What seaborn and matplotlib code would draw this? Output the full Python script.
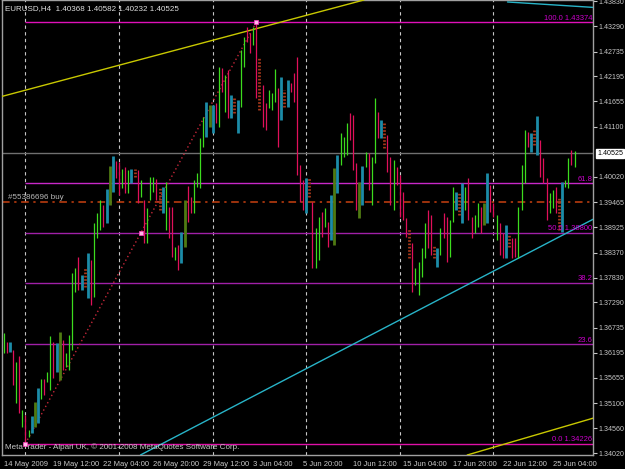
import matplotlib
import matplotlib.pyplot as plt
import seaborn as sns
import pandas as pd

matplotlib.use('Agg')

# H4 bars (high / low per bar)
highs = [
    1.36626, 1.36430, 1.36430, 1.36257, 1.35996, 1.36126, 1.34954, 1.34845, 1.34520, 1.34824,
    1.35128, 1.35432, 1.35627, 1.35627, 1.35779, 1.36560, 1.36430, 1.36409, 1.36647, 1.36474,
    1.36191, 1.36582, 1.37928, 1.38036, 1.38275, 1.37885, 1.38058, 1.38362, 1.38210, 1.39013,
    1.39231, 1.39513, 1.39404, 1.39752, 1.40251, 1.40468, 1.40360, 1.40338, 1.40186, 1.40229,
    1.40164, 1.40186, 1.40186, 1.40164, 1.39947, 1.39513, 1.39339, 1.40013, 1.40013, 1.39969,
    1.39795, 1.39795, 1.39904, 1.39361, 1.39361, 1.38493, 1.38536, 1.38818, 1.39513, 1.39817,
    1.39578, 1.39947, 1.40099, 1.40859, 1.41315, 1.41641, 1.41575, 1.41575, 1.41619, 1.42400,
    1.42379, 1.42227, 1.42335, 1.41793, 1.41728, 1.41684, 1.42770, 1.43052, 1.43269, 1.43139,
    1.43269, 1.43374, 1.42618, 1.42010, 1.41619, 1.41901, 1.41836, 1.42357, 1.41945, 1.42183,
    1.41901, 1.42118, 1.42053, 1.42270, 1.42618, 1.40273, 1.39947, 1.39991, 1.39991, 1.39470,
    1.38905, 1.39144, 1.39252, 1.39339, 1.39035, 1.39622, 1.40208, 1.40490, 1.40967, 1.40881,
    1.41185, 1.41402, 1.41358, 1.40316, 1.39904, 1.40251, 1.40555, 1.40533, 1.40447, 1.41728,
    1.41423, 1.41250, 1.41206, 1.40924, 1.40447, 1.40381, 1.40229, 1.40056, 1.39687, 1.39122,
    1.38905, 1.38580, 1.38036, 1.38166, 1.38471, 1.39013, 1.39296, 1.39187, 1.38536, 1.38471,
    1.38905, 1.39231, 1.39144, 1.39079, 1.39795, 1.39687, 1.39665, 1.39882, 1.39795, 1.39991,
    1.39144, 1.39187, 1.39448, 1.39361, 1.39448, 1.40099, 1.39839, 1.39448, 1.39187, 1.39013,
    1.38797, 1.38970, 1.38753, 1.38688, 1.38688, 1.39361, 1.40273, 1.41032, 1.40989, 1.40967,
    1.41032, 1.41337, 1.40815, 1.40425, 1.39991, 1.39665, 1.39730, 1.39795, 1.39578, 1.39904,
    1.39947, 1.40425, 1.40599, 1.40582,
]
lows = [
    1.36191, 1.36191, 1.36213, 1.35497, 1.35106, 1.34889, 1.34585, 1.34226, 1.34368, 1.34455,
    1.34585, 1.34672, 1.35193, 1.35280, 1.35562, 1.35388, 1.35649, 1.35779, 1.35605, 1.35822,
    1.35887, 1.35822, 1.36257, 1.37516, 1.37559, 1.37559, 1.37624, 1.37385, 1.37233, 1.37407,
    1.38688, 1.38862, 1.38927, 1.39013, 1.39404, 1.39687, 1.39991, 1.39622, 1.39774, 1.39665,
    1.39665, 1.39882, 1.40013, 1.39448, 1.39578, 1.38580, 1.38580, 1.39513, 1.39687, 1.39513,
    1.39296, 1.39231, 1.38862, 1.38688, 1.38275, 1.38210, 1.37993, 1.38145, 1.38493, 1.39035,
    1.39231, 1.39231, 1.39795, 1.39774, 1.40663, 1.40881, 1.41098, 1.40967, 1.41185, 1.41098,
    1.41858, 1.41423, 1.41293, 1.41293, 1.41402, 1.40967, 1.41532, 1.42400, 1.42943, 1.42704,
    1.42878, 1.41728, 1.41467, 1.41098, 1.41032, 1.41510, 1.41467, 1.41641, 1.40663, 1.41250,
    1.41532, 1.41532, 1.41858, 1.41641, 1.40056, 1.39470, 1.39296, 1.39231, 1.39578, 1.38036,
    1.38036, 1.38210, 1.38710, 1.38927, 1.38493, 1.38645, 1.38536, 1.39665, 1.40273, 1.40447,
    1.40490, 1.40815, 1.40164, 1.39296, 1.39122, 1.39404, 1.40229, 1.39730, 1.39404, 1.40316,
    1.40859, 1.40859, 1.40642, 1.40121, 1.39404, 1.39296, 1.39839, 1.39144, 1.39079, 1.38710,
    1.38253, 1.37516, 1.37668, 1.37451, 1.37841, 1.38253, 1.38471, 1.38319, 1.38253, 1.38058,
    1.38319, 1.38688, 1.38166, 1.38275, 1.39035, 1.39296, 1.39187, 1.39013, 1.39296, 1.39079,
    1.38688, 1.38797, 1.38927, 1.38797, 1.38970, 1.39013, 1.39252, 1.39144, 1.38645, 1.38319,
    1.38253, 1.38253, 1.38493, 1.38253, 1.38275, 1.38253, 1.39296, 1.39882, 1.40663, 1.40555,
    1.40707, 1.40490, 1.40013, 1.39882, 1.39079, 1.39231, 1.39339, 1.39231, 1.38862, 1.38818,
    1.39795, 1.39774, 1.40273, 1.40232,
]
# bar colouring from the indicator: u=up, d=down, t=teal, o=olive, b=brown
kinds = list(
    "udtdududut" "otuduudtod" "uuuudtbtdu" "uudtotddud" "utbduduuud"
    "btuddudtod" "duuuutotdu" "dudtbtuudd" "udbdduuudt" "btdddddtbd"
    "uududtotuu" "udddotuduu" "dtbddudddd" "bduuuuddbt" "udduutbtud"
    "duudotddud" "dtbdduuudt" "btddduudbt" "uudu"
)

x_labels = ["14 May 2009", "19 May 12:00", "22 May 04:00", "26 May 20:00", "29 May 12:00",
            "3 Jun 04:00", "5 Jun 20:00", "10 Jun 12:00", "15 Jun 04:00", "17 Jun 20:00",
            "22 Jun 12:00", "25 Jun 04:00"]
x_label_bars = [0, 16, 32, 48, 64, 80, 96, 112, 128, 144, 160, 176]
week_bars = [7, 37, 67, 97, 127, 157]

y_ticks = [1.43830, 1.43290, 1.42735, 1.42195, 1.41655, 1.41100, 1.40020, 1.39465,
           1.38925, 1.38370, 1.37830, 1.37290, 1.36735, 1.36195, 1.35655, 1.35100,
           1.34560, 1.34020]

fib_names = ["0.0 1.34226", "23.6", "38.2", "50.0 1.38800", "61.8", "100.0 1.43374"]
fib_prices = [1.34226, 1.36385, 1.37720, 1.38800, 1.39879, 1.43374]
fib_colors = ["#E010A8", "#A020A8", "#A020A8", "#A020A8", "#C828C8", "#E010B8"]
fib_start_bar = 7
fib_end_bar = 81
fib_mid_bar = 44

last_price = 1.40525
order_price = 1.39470
order_label = "#55386696 buy"
header = "EURUSD,H4  1.40368 1.40582 1.40232 1.40525"
footer = "MetaTrader - Alpari UK, \u00a9 2001-2008 MetaQuotes Software Corp."

# trend lines as (bar, price) pairs
yellow_up = [(0, 1.41771), (101, 1.43594)]
yellow_low = [(149.7, 1.33999), (189.1, 1.34780)]
cyan_up = [(44.5, 1.33999), (189.1, 1.39101)]
cyan_top = [(161.5, 1.43812), (190.0, 1.43690)]

kind_color = {"u": "#3CDC1E", "d": "#E0105A", "t": "#1C8CA8", "o": "#4F7A12", "b": "#A8381A"}
kind_width = {"u": 0.9, "d": 0.9, "t": 2.0, "o": 2.0, "b": 2.0}

df = pd.DataFrame({"bar": range(len(highs)), "high": highs, "low": lows, "kind": kinds})

sns.set_theme(style="dark", rc={
    "figure.facecolor": "black", "axes.facecolor": "black",
    "axes.edgecolor": "#A0A0A0", "xtick.color": "#C8C8C8", "ytick.color": "#C8C8C8",
})
plt.rcParams['font.family'] = ['Liberation Sans', 'DejaVu Sans']

fig = plt.figure(figsize=(6.25, 4.69), dpi=100)
ax = fig.add_axes([2 / 625, 14 / 469, 591 / 625, 455 / 469])
ax.set_xlim(-0.5, 188.9)
ax.set_ylim(1.33977, 1.43855)

# week separators
for b in week_bars:
    ax.axvline(b, color="#C8C8C8", lw=0.8, ls=(0, (3, 3)), zorder=1)

# fibo levels
for name, price, col in zip(fib_names, fib_prices, fib_colors):
    ax.hlines(price, fib_start_bar, 188.9, color=col, lw=1.0, zorder=2)
    ax.text(188.6, price + 0.00008, name, color="#CC00CC", fontsize=5.5,
            ha="right", va="bottom", zorder=6)

ax.axhline(last_price, color="#707070", lw=1.0, zorder=2)
ax.axhline(order_price, color="#C84010", lw=1.1, ls=(0, (5, 3, 1.5, 3)), zorder=2)
ax.text(1.5, order_price + 0.0003, order_label, color="#B8B8B8", fontsize=5.8,
        ha="left", va="bottom", zorder=6)

# trend lines
for pts, col in [(yellow_up, "#C8C800"), (yellow_low, "#C8C800"), (cyan_up, "#28B4C8")]:
    ax.axline(pts[0], pts[1], color=col, lw=1.0, zorder=3)
ax.plot([p[0] for p in cyan_top], [p[1] for p in cyan_top], color="#28B4C8", lw=1.0, zorder=3)

# fibo base line
ax.plot([fib_start_bar, fib_end_bar], [fib_prices[0], fib_prices[-1]],
        color="#C8283A", lw=1.0, ls=(0, (1, 2)), zorder=3)

# bars
for k, grp in df.groupby("kind"):
    ls = (0, (0.6, 0.6)) if k == "b" else "solid"
    ax.vlines(grp["bar"], grp["low"], grp["high"], color=kind_color[k],
              lw=kind_width[k], linestyles=[ls], zorder=4)

marks = pd.DataFrame({"bar": [fib_start_bar, fib_mid_bar, fib_end_bar],
                      "price": [fib_prices[0], fib_prices[3], fib_prices[-1]]})
sns.scatterplot(data=marks, x="bar", y="price", marker="s", s=9, color="#FFB8E8",
                edgecolor="#FF40C0", linewidth=0.5, ax=ax, zorder=7)

# axes styling
ax.yaxis.tick_right()
ax.set_yticks(y_ticks)
ax.set_yticklabels([f"{v:.5f}" for v in y_ticks])
ax.set_xticks(x_label_bars)
ax.set_xticklabels(x_labels, ha="left")
ax.tick_params(axis="both", length=3, width=0.8, labelsize=5.5, pad=1.5,
               colors="#C8C8C8", direction="out")
ax.tick_params(axis="y", labelsize=5.1, pad=1.0)
ax.set_xlabel("")
ax.set_ylabel("")
ax.grid(False)
for s in ax.spines.values():
    s.set_visible(True)
    s.set_color("#A0A0A0")
    s.set_linewidth(1.0)

ax.annotate(f"{last_price:.5f}", xy=(1.0, last_price), xycoords=("axes fraction", "data"),
            xytext=(3, 0), textcoords="offset points", fontsize=5.1, color="black",
            va="center", ha="left",
            bbox=dict(boxstyle="square,pad=0.15", fc="white", ec="white"),
            annotation_clip=False)

ax.text(0.005, 0.99, header, transform=ax.transAxes, color="#E0E0E0", fontsize=5.8,
        ha="left", va="top")
ax.text(0.005, 0.008, footer, transform=ax.transAxes, color="#C8C8C8", fontsize=5.8,
        ha="left", va="bottom")

fig.savefig("out.png", dpi=100, facecolor="black")
